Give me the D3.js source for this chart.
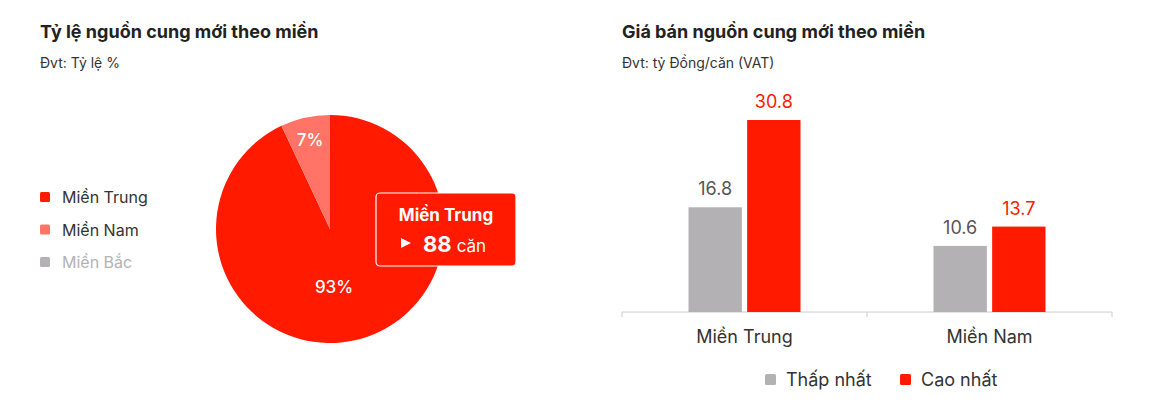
<!DOCTYPE html><html><head><meta charset="utf-8">
<script src="https://cdn.jsdelivr.net/npm/d3@7"></script>
<style>body{margin:0;background:#fff;font-family:Inter,"Noto Sans",sans-serif}</style></head><body>
<svg id="c" width="1154" height="416"></svg>
<script>
const pieCats=["Miền Trung","Miền Nam","Miền Bắc"];
const pieVals=[93,7,0];
const pieColors=["#ff1a00","#ff7466","#b3b1b4"];
const barCats=["Miền Trung","Miền Nam"];
const seriesNames=["Thấp nhất","Cao nhất"];
const lowVals=[16.8,10.6];
const highVals=[30.8,13.7];
const seriesColors=["#b3b1b4","#ff1a00"];

const svg=d3.select("#c");
svg.append("rect").attr("width",1154).attr("height",416).attr("fill","#fff");
const title=(x,t,s)=>{svg.append("text").attr("x",x).attr("y",38).attr("font-size",18).attr("font-weight",700).attr("fill","#222").text(t);
svg.append("text").attr("x",x).attr("y",68).attr("font-size",14).attr("fill","#333").text(s);};
title(40,"Tỷ lệ nguồn cung mới theo miền","Đvt: Tỷ lệ %");
title(622,"Giá bán nguồn cung mới theo miền","Đvt: tỷ Đồng/căn (VAT)");

// left legend
pieCats.forEach((c,i)=>{const y=197+i*32.5;
svg.append("rect").attr("x",40).attr("y",y-5).attr("width",10).attr("height",10).attr("rx",1.5).attr("fill",pieColors[i]);
svg.append("text").attr("x",62).attr("y",y+6).attr("font-size",16).attr("fill",i==2?"#b3b3b3":"#333").text(c);});

// pie
const cx=330,cy=229,r=114;
const arcs=d3.pie().sort(null)(pieVals);
const arc=d3.arc().innerRadius(0).outerRadius(r);
const g=svg.append("g").attr("transform",`translate(${cx},${cy})`);
g.selectAll("path").data(arcs).join("path").attr("d",arc).attr("fill",(d,i)=>pieColors[i]);
const lblArc=d3.arc().innerRadius(r*0.5).outerRadius(r*0.5);
const lblArc2=d3.arc().innerRadius(r*0.8).outerRadius(r*0.8);
arcs.forEach((a,i)=>{if(!a.value)return;const p=(i==0?lblArc:lblArc2).centroid(a);
g.append("text").attr("x",i==0?4:p[0]).attr("y",i==0?58:p[1]).attr("text-anchor","middle").attr("dy","0.35em").attr("font-size",17).attr("font-weight",500).attr("fill","#fff").text(a.value+"%");});
// tooltip
svg.append("rect").attr("x",376).attr("y",193).attr("width",140).attr("height",73).attr("rx",4).attr("fill","#ff1a00").attr("stroke","#fff").attr("stroke-width",1.2);
svg.append("text").attr("x",446).attr("y",221).attr("text-anchor","middle").attr("font-size",17).attr("font-weight",700).attr("fill","#fff").text(pieCats[0]);
svg.append("path").attr("d","M401,238 L411,243 L401,248 Z").attr("fill","#fff");
const t=svg.append("text").attr("x",423).attr("y",252).attr("fill","#fff");
t.append("tspan").attr("font-size",22).attr("font-weight",700).text("88");
t.append("tspan").attr("font-size",17).attr("dx",5).text("căn");

// bars
const x0=d3.scaleBand().domain(barCats).range([622,1112]);
const x1=d3.scaleBand().domain(seriesNames).range([0,112]).paddingInner(0.09);
const y=d3.scaleLinear().domain([0,30.8]).range([312,120]);
const ax=svg.append("g").attr("transform","translate(0,312)").call(d3.axisBottom(x0).tickSize(0).tickFormat(""));
ax.select(".domain").attr("stroke","#ccc").attr("d","M622,5V0H1112V5");
svg.append("line").attr("x1",867).attr("x2",867).attr("y1",312).attr("y2",317).attr("stroke","#ccc");
barCats.forEach((c,ci)=>{const base=x0(c)+x0.bandwidth()/2-56;
[lowVals,highVals].forEach((vals,si)=>{const bx=base+x1(seriesNames[si]);
svg.append("rect").attr("x",bx).attr("y",y(vals[ci])).attr("width",x1.bandwidth()).attr("height",312-y(vals[ci])).attr("fill",seriesColors[si]);
svg.append("text").attr("x",bx+x1.bandwidth()/2).attr("y",y(vals[ci])-12).attr("text-anchor","middle").attr("font-size",18).attr("fill",si?"#ff1a00":"#555").text(vals[ci].toFixed(1));});
svg.append("text").attr("x",x0(c)+x0.bandwidth()/2).attr("y",343).attr("text-anchor","middle").attr("font-size",18).attr("fill","#333").text(c);});
// bar legend
[[765,0],[900,1]].forEach(([lx,i])=>{svg.append("rect").attr("x",lx).attr("y",374).attr("width",11).attr("height",11).attr("rx",1.5).attr("fill",seriesColors[i]);
svg.append("text").attr("x",lx+21).attr("y",386).attr("font-size",18).attr("fill","#333").text(seriesNames[i]);});
</script></body></html>
